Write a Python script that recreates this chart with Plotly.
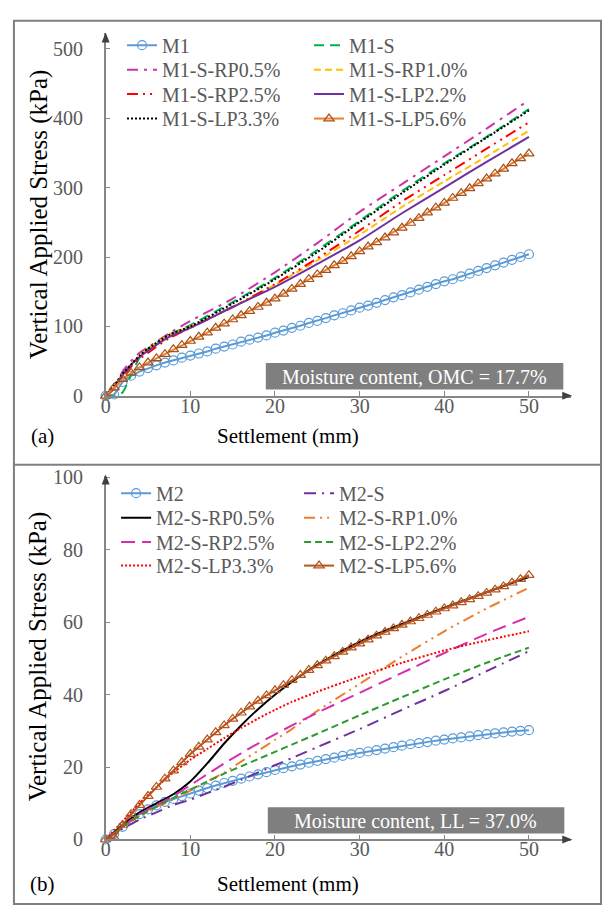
import plotly.graph_objects as go

W, H = 603, 917
FONT = "Liberation Serif, Times New Roman, serif"
GREY_TXT = "#595959"
AXIS_COL = "#868686"

# ---------------- Panel (a): OMC = 17.7% ----------------
m1_x = list(range(51))
m1_y = [0, 2, 20, 29, 35, 40, 44, 48, 51, 55, 58, 61, 64, 68, 71, 74, 78, 81, 84, 87,
        91, 94, 98, 101, 105, 108, 112, 116, 119, 123, 127, 130, 134, 138, 142, 145,
        149, 153, 157, 161, 165, 168, 172, 176, 180, 184, 188, 192, 196, 200, 204]
lp56_y = [0, 12, 24, 33, 41, 48, 54, 60, 67, 73, 79, 85, 91, 98, 104, 110, 116, 122,
          128, 134, 140, 147, 154, 161, 168, 175, 181, 188, 194, 201, 208, 215, 221,
          228, 235, 242, 249, 256, 264, 271, 278, 285, 292, 299, 306, 313, 320, 327,
          335, 342, 349]
top_x = [0, 1, 2, 3, 4, 5, 7.5, 10, 15, 20, 25, 30, 35, 40, 45, 50]
m1s_y = [0, 0, 5, 30, 55, 68, 88, 102, 135, 170, 210, 252, 295, 335, 373, 413]
rp05_y = [0, 12, 35, 50, 62, 70, 90, 108, 140, 178, 220, 265, 305, 345, 385, 426]
rp10_y = [0, 10, 30, 45, 58, 68, 88, 100, 128, 160, 195, 232, 272, 309, 345, 382]
rp25_y = [0, 10, 28, 42, 53, 62, 83, 98, 128, 161, 198, 238, 280, 318, 356, 394]
lp22_y = [0, 12, 30, 45, 56, 65, 85, 98, 128, 157, 190, 224, 263, 300, 337, 373]
lp33_y = [0, 15, 32, 45, 58, 68, 88, 100, 133, 168, 207, 250, 292, 333, 372, 411]

# ---------------- Panel (b): LL = 37.0% ----------------
m2_x = list(range(51))
m2_y = [0, 1.5, 3.5, 5.5, 7, 8.3, 9.4, 10.4, 11.2, 12, 12.7, 13.5, 14.2, 14.9, 15.6,
        16.2, 16.8, 17.4, 18, 18.6, 19.2, 19.7, 20.2, 20.7, 21.2, 21.7, 22.2, 22.6,
        23.1, 23.5, 23.9, 24.3, 24.7, 25.1, 25.5, 25.9, 26.3, 26.6, 26.9, 27.3, 27.6,
        27.9, 28.2, 28.5, 28.8, 29.1, 29.3, 29.6, 29.8, 30, 30.2]
m2lp56_y = [0, 0.5, 4, 7, 9.5, 12, 14.5, 16.8, 19, 21.3, 23.6, 25.6, 27.6, 29.6, 31.5,
            33.3, 35, 36.7, 38.3, 39.8, 41.2, 42.6, 44, 45.4, 46.8, 48.1, 49.4, 50.6,
            51.8, 53, 54.1, 55.2, 56.3, 57.3, 58.3, 59.3, 60.2, 61.1, 62, 62.9, 63.8,
            64.6, 65.5, 66.3, 67.2, 68.1, 69, 69.9, 70.9, 71.9, 73]
bot_x = [0, 2, 4, 6, 8, 10, 12, 14, 16, 18, 20, 22, 25, 30, 35, 40, 45, 50]
m2s_y = [0, 3, 5.5, 7.5, 9.5, 11, 12.8, 14.6, 16.5, 18.5, 20.5, 22.5, 25.5, 30.5, 35.8, 41, 46.5, 52]
m2rp10_y = [0, 3.5, 6.5, 9, 11, 13.5, 16, 18.5, 21.5, 24.5, 27.5, 30.5, 35.5, 43, 50.5, 57.5, 63.8, 69.5]
m2rp25_y = [0, 3.5, 7, 9.5, 12, 15, 18, 21, 23.8, 26.5, 29, 31.5, 35, 40.5, 46, 51.5, 56.8, 61.5]
m2lp22_y = [0, 3.5, 6.5, 9, 11.5, 13.8, 16, 18.2, 20.2, 22.2, 24.2, 26.2, 29.2, 34.3, 39.3, 44.2, 48.8, 53]
m2lp33_y = [0, 5, 10, 14.5, 18.5, 22, 25, 28, 30.8, 33.4, 35.8, 38, 40.8, 45, 48.8, 52.2, 55, 57.5]
rp05_x = [0, 2, 4, 6, 8, 10, 12, 14, 16, 18, 20, 22, 24, 26, 28, 30, 32, 35, 40, 45, 50]
m2rp05_y = [0, 4, 7.5, 10, 12.5, 16, 21, 26.5, 31.5, 36, 40, 43.5, 46.8, 49.6, 52.2,
            54.6, 56.7, 59.5, 64, 68.3, 72.5]

x_ticks = [0, 10, 20, 30, 40, 50]
top_y_ticks = [0, 100, 200, 300, 400, 500]
bot_y_ticks = [0, 20, 40, 60, 80, 100]

fig = go.Figure()


def add(x, y, name, color, dash="solid", width=2, legend="legend", xa="x", ya="y",
        symbol=None, mline=None, shape="spline"):
    kw = {}
    if symbol:
        kw["mode"] = "lines+markers"
        kw["marker"] = dict(symbol=symbol, size=9, color=mline or color,
                            line=dict(color=mline or color, width=1.2))
        kw["cliponaxis"] = False
    else:
        kw["mode"] = "lines"
    fig.add_trace(go.Scatter(x=x, y=y, name=name, xaxis=xa, yaxis=ya, legend=legend,
                             line=dict(color=color, dash=dash, width=width, shape=shape,
                                       smoothing=0.6), **kw))


# top panel: one legend per row (two entries each)
add(m1_x, m1_y, "M1", "#5b9bd5", symbol="circle-open", legend="legend", shape="linear")
add(top_x, m1s_y, "M1-S", "#00b050", dash="10px,6px", legend="legend")
add(top_x, rp05_y, "M1-S-RP0.5%", "#cc33aa", dash="11px,6px,3px,6px", legend="legend2")
add(top_x, rp10_y, "M1-S-RP1.0%", "#ffc000", dash="7px,4px", legend="legend2")
add(top_x, rp25_y, "M1-S-RP2.5%", "#ff0000", dash="11px,5px,2px,5px,2px,5px", legend="legend3")
add(top_x, lp22_y, "M1-S-LP2.2%", "#7030a0", legend="legend3")
add(top_x, lp33_y, "M1-S-LP3.3%", "#000000", dash="2px,2px", legend="legend4")
add(m1_x, lp56_y, "M1-S-LP5.6%", "#ed7d31", symbol="triangle-up-open", mline="#a5501a",
    legend="legend4", shape="linear")

# bottom panel
B = dict(xa="x2", ya="y2")
add(m2_x, m2_y, "M2", "#5b9bd5", symbol="circle-open", legend="legend5", shape="linear", **B)
add(bot_x, m2s_y, "M2-S", "#7030a0", dash="12px,6px,2px,6px", legend="legend5", **B)
add(rp05_x, m2rp05_y, "M2-S-RP0.5%", "#000000", legend="legend6", **B)
add(bot_x, m2rp10_y, "M2-S-RP1.0%", "#ed7d31", dash="11px,5px,2px,5px,2px,5px", legend="legend6", **B)
add(bot_x, m2rp25_y, "M2-S-RP2.5%", "#d62fae", dash="14px,7px", legend="legend7", **B)
add(bot_x, m2lp22_y, "M2-S-LP2.2%", "#2e9a2e", dash="7px,4px", legend="legend7", **B)
add(bot_x, m2lp33_y, "M2-S-LP3.3%", "#ff0000", dash="2px,2px", legend="legend8", **B)
add(m2_x, m2lp56_y, "M2-S-LP5.6%", "#b5541c", symbol="triangle-up-open", legend="legend8",
    shape="linear", **B)


def px(v):
    return v / W


def py(v):
    return 1 - v / H


leg_font = dict(family=FONT, size=20, color=GREY_TXT)


def leg(xp, yp, ew):
    return dict(orientation="h", x=px(xp), y=py(yp), xanchor="left", yanchor="middle",
                entrywidth=ew, entrywidthmode="pixels", font=leg_font,
                bgcolor="rgba(0,0,0,0)", itemwidth=30, traceorder="normal")


top_rows = [37, 62, 87, 112]
bot_rows = [495, 520, 545, 569]
layout_legends = {}
for i, r in enumerate(top_rows):
    key = "legend" if i == 0 else f"legend{i + 1}"
    layout_legends[key] = leg(118, r, 142)
for i, r in enumerate(bot_rows):
    layout_legends[f"legend{i + 5}"] = leg(112, r, 138)

axis_common = dict(showline=True, linecolor=AXIS_COL, linewidth=1.5, ticks="inside",
                   ticklen=5, tickcolor=AXIS_COL, tickwidth=1.3, showgrid=False,
                   zeroline=False, tickfont=dict(family=FONT, size=20, color=GREY_TXT))

x0p, x1p = 101.5, 571
fig.update_layout(
    width=W, height=H, margin=dict(l=0, r=0, t=0, b=0),
    paper_bgcolor="white", plot_bgcolor="white", showlegend=True,
    xaxis=dict(domain=[px(x0p), px(x1p)], range=[0, 55], tickvals=x_ticks,
               anchor="y", ticklabelstandoff=-9, **axis_common),
    yaxis=dict(domain=[py(395.5), py(25)], range=[0, 522], tickvals=top_y_ticks,
               anchor="x", ticklabelstandoff=17, **axis_common),
    xaxis2=dict(domain=[px(x0p), px(x1p)], range=[0, 55], tickvals=x_ticks,
                anchor="y2", ticklabelstandoff=-9, **axis_common),
    yaxis2=dict(domain=[py(849), py(477)], range=[0, 100.5], tickvals=bot_y_ticks,
                anchor="x2", ticklabelstandoff=17, **axis_common),
    **layout_legends,
)

shapes = []
# outer border and separator
shapes.append(dict(type="rect", xref="paper", yref="paper", x0=px(9), x1=px(601),
                   y0=py(915), y1=py(12), line=dict(color="#7f7f7f", width=2)))
shapes.append(dict(type="line", xref="paper", yref="paper", x0=px(9), x1=px(601),
                   y0=py(466), y1=py(466), line=dict(color="#7f7f7f", width=2)))
# moisture boxes
shapes.append(dict(type="rect", xref="paper", yref="paper", x0=px(263), x1=px(563),
                   y0=py(389), y1=py(362), fillcolor="#7f7f7f", line=dict(width=0)))
shapes.append(dict(type="rect", xref="paper", yref="paper", x0=px(265), x1=px(564),
                   y0=py(843), y1=py(816), fillcolor="#7f7f7f", line=dict(width=0)))
# axis arrows
for (ax_x, ax_y) in [(x1p, 395.5), (x1p, 849)]:
    shapes.append(dict(type="path", xref="paper", yref="paper", xsizemode="pixel",
                       ysizemode="pixel", xanchor=px(ax_x), yanchor=py(ax_y),
                       path="M -9 4 L 1 0 L -9 -4 Z", fillcolor="#404040",
                       line=dict(width=0)))
for ax_y in [25, 477]:
    shapes.append(dict(type="path", xref="paper", yref="paper", xsizemode="pixel",
                       ysizemode="pixel", xanchor=px(x0p), yanchor=py(ax_y),
                       path="M -4 -9 L 0 1 L 4 -9 Z", fillcolor="#404040",
                       line=dict(width=0)))
fig.update_layout(shapes=shapes)

ann = []


def text(x, y, s, size=20, color="black", angle=0, xanchor="center"):
    ann.append(dict(x=px(x), y=py(y), xref="paper", yref="paper", text=s, showarrow=False,
                    font=dict(family=FONT, size=size, color=color), textangle=angle,
                    xanchor=xanchor, yanchor="middle"))


text(413, 376, "Moisture content, OMC = 17.7%", size=20, color="white")
text(414, 830, "Moisture content, LL = 37.0%", size=20, color="white")
text(285, 437, "Settlement (mm)", size=21)
text(285, 895, "Settlement (mm)", size=21)
text(38, 437, "(a)", size=21)
text(38, 895, "(b)", size=21)
text(35, 210, "Vertical Applied Stress (kPa)", size=25, angle=-90)
text(33, 662, "Vertical Applied Stress (kPa)", size=25, angle=-90)
fig.update_layout(annotations=ann)

fig.write_html("out.html", config={"displayModeBar": False},
               post_script="document.body.style.margin='0px';"
                           "document.body.style.overflow='hidden';")
